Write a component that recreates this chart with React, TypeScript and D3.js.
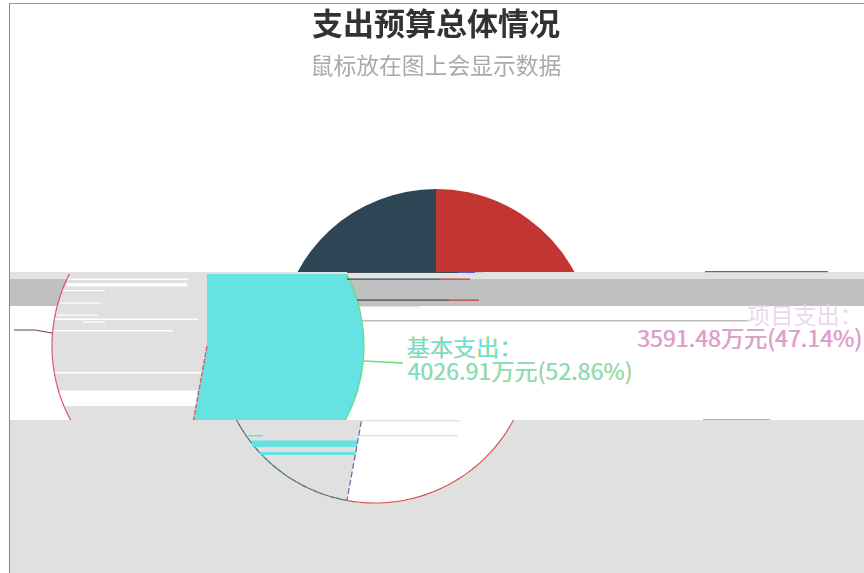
import React from "react";
import * as d3 from "d3";

const title = "支出预算总体情况";
const subtitle = "鼠标放在图上会显示数据";
const categories = ["基本支出", "项目支出"];
const values = [4026.91, 3591.48];
const percents = ["52.86%", "47.14%"];
const palette = ["#c23531", "#2f4554"];

const W = 864, H = 573;
const cx = 436, cy = 346, R = 157;
const bandTop = 272, sliceTop = 274, bandBottom = 420;
const shiftMid = -229, shiftMidLeft = -227, shiftLow = -61;

// scan-line artefacts of the picture: [x0, x1, y, height]
const whiteStreaks = [
  [68, 188, 278.5, 1.5], [67, 187, 283, 3.5], [63, 105, 290, 1.2], [60, 100, 302.5, 1.2],
  [57, 98, 314.5, 1.2], [55, 198, 318.5, 1.5], [83, 105, 321.5, 1.2], [52, 173, 330, 1.5],
  [55, 203, 372, 1.5], [58, 197, 390.5, 15.5],
];
const cyanStreaks = [[248, 263, 435, 1.5], [252, 357, 440.5, 6.5], [260, 355, 452, 3]];
const grayLines = [[360, 460, 420, 1.5], [360, 458, 435, 1.5]];
const barStreaks = [
  [347, 458, 272, 1, "#3d4f55"], [458, 475, 272, 1, "#5a5ad0"], [475, 483, 272, 1, "#c8c8c8"],
  [347, 440, 278.5, 1.2, "#2f4554"], [440, 470, 278.5, 1.2, "#c23531"],
  [357, 449, 299.5, 1.2, "#2f4554"], [449, 479, 299.5, 1.2, "#c23531"],
  [705, 828, 271, 1.2, "#666"], [703, 770, 419.5, 1.4, "#666"],
];

const slices = d3.pie<number>().sort(null).startAngle(0).endAngle(2 * Math.PI)(values);
const wedge = d3.arc<d3.PieArcDatum<number>>().innerRadius(0).outerRadius(R);
const rim = d3.arc<d3.PieArcDatum<number>>().innerRadius(R).outerRadius(R);
const split = slices[0].endAngle;
const splitEnd = d3.pointRadial(split, R);
const radial = `M0,0L${splitEnd[0]},${splitEnd[1]}`;
const fmt = (i: number) => `${values[i].toFixed(2)}万元(${percents[i]})`;
const cjk = "'Noto Sans CJK SC', sans-serif";

export default function App() {
  const [red, dark] = slices;
  return (
    <svg width={W} height={H} style={{ position: "absolute", left: 0, top: 0 }} fontFamily={cjk}>
      <defs>
        <clipPath id="top"><rect x={0} y={0} width={W} height={bandTop} /></clipPath>
        <clipPath id="mid"><rect x={10} y={sliceTop} width={W} height={bandBottom - sliceTop} /></clipPath>
        <clipPath id="low"><rect x={10} y={bandBottom} width={W} height={H - bandBottom} /></clipPath>
        <clipPath id="lowerMid"><rect x={0} y={cy} width={W} height={bandBottom - cy} /></clipPath>
        <filter id="soft" x="0" y="0" width="100%" height="100%">
          <feGaussianBlur stdDeviation="0.45" />
        </filter>
        <filter id="fringeYellow" x="-5%" y="-10%" width="110%" height="120%">
          <feDropShadow dx={-0.7} dy={0} stdDeviation={0} floodColor="#f0d070" />
        </filter>
        <filter id="fringeMagenta" x="-5%" y="-10%" width="110%" height="120%">
          <feDropShadow dx={0.6} dy={0} stdDeviation={0} floodColor="#f08cf0" />
        </filter>
      </defs>
      <rect width={W} height={H} fill="#fff" />
      <g filter="url(#soft)">
        {/* upper part of the pie */}
        <g clipPath="url(#top)">
          <g transform={`translate(${cx},${cy})`}>
            <path d={wedge(red)!} fill={palette[0]} />
            <path d={wedge(dark)!} fill={palette[1]} />
          </g>
        </g>

        {/* middle band */}
        <rect x={10} y={bandTop} width={W - 10} height={7} fill="#e2e2e2" />
        <rect x={10} y={279} width={W - 10} height={27} fill="#c0c0c0" />
        <rect x={360} y={306} width={60} height={1.5} fill="#e6e6e6" />
        <rect x={360} y={320} width={390} height={1.5} fill="#bdbdbd" />
        <g clipPath="url(#mid)">
          <g transform={`translate(${cx + shiftMidLeft},${cy})`}>
            <path d={wedge(dark)!} fill="#e0e0e0" />
          </g>
        </g>
        {whiteStreaks.map(([a, b, y, h], i) => (
          <rect key={i} x={a} y={y} width={b - a} height={h} fill="#fff" />
        ))}
        <g clipPath="url(#mid)">
          <g transform={`translate(${cx + shiftMidLeft},${cy})`}>
            <path d={rim(dark)!} fill="none" stroke="#d8536a" strokeWidth={1.2} strokeDasharray="4 2" />
          </g>
          <g transform={`translate(${cx + shiftMid},${cy})`}>
            <path d={wedge(red)!} fill="#66e2e2" />
            <path d={rim(red)!} fill="none" stroke="#66dc7c" strokeWidth={1.2} />
          </g>
        </g>
        <g clipPath="url(#lowerMid)">
          <g transform={`translate(${cx + shiftMid},${cy})`}>
            <path d={radial} fill="none" stroke="#d8605a" strokeWidth={1.4} strokeDasharray="5 1.5" />
          </g>
        </g>
        {barStreaks.map(([a, b, y, h, c], i) => (
          <rect key={i} x={a as number} y={y as number} width={(b as number) - (a as number)} height={h as number} fill={c as string} />
        ))}

        {/* lower band */}
        <rect x={10} y={bandBottom} width={W - 10} height={H - bandBottom} fill="#e0e0e0" />
        <g clipPath="url(#low)">
          <g transform={`translate(${cx + shiftLow},${cy})`}>
            <path d={wedge(red)!} fill="#fff" />
            <path d={rim(red)!} fill="none" stroke="#d9534f" strokeWidth={1.1} strokeDasharray="9 1" />
            <path d={rim(dark)!} fill="none" stroke="#56707f" strokeWidth={1.2} strokeDasharray="5 1" />
          </g>
        </g>
        {grayLines.map(([a, b, y, h], i) => (
          <rect key={i} x={a} y={y} width={b - a} height={h} fill="#e4e4e4" />
        ))}
        {cyanStreaks.map(([a, b, y, h], i) => (
          <rect key={i} x={a} y={y} width={b - a} height={h} fill="#66e2e2" />
        ))}
        <g clipPath="url(#low)">
          <g transform={`translate(${cx + shiftLow},${cy})`}>
            <path d={radial} fill="none" stroke="#7a6aa8" strokeWidth={1.3} strokeDasharray="6 2.5" />
          </g>
        </g>

        {/* leader lines */}
        <path d="M14,330L35,330L52,333" fill="none" stroke="#6b3f58" strokeWidth={1.2} />
        <path d="M364,361L403,363" fill="none" stroke="#6fdc78" strokeWidth={1.5} />

        {/* labels */}
        <g fontSize={23.2}>
          <text x={407} y={356} fill="#66e2da" filter="url(#fringeYellow)">{categories[0]}：</text>
          <text x={408} y={380} fill="#74e2c8" filter="url(#fringeYellow)">{fmt(0)}</text>
          <text x={863} y={324} textAnchor="end" fill="#ead9ea">{categories[1]}：</text>
          <text x={862} y={347} textAnchor="end" fill="#d8a4c0" filter="url(#fringeMagenta)">{fmt(1)}</text>
        </g>

        {/* titles */}
        <text x={436} y={35} textAnchor="middle" fontSize={31} fontWeight={700} fill="#333">{title}</text>
        <text x={436} y={74} textAnchor="middle" fontSize={22.8} fill="#aaa">{subtitle}</text>
      </g>

      {/* frame */}
      <rect x={0} y={0} width={9} height={H} fill="#fff" />
      <rect x={0} y={0} width={W} height={3} fill="#fff" />
      <rect x={9} y={3} width={W - 9} height={1} fill="#999" />
      <rect x={9} y={3} width={1} height={H - 3} fill="#888" />
    </svg>
  );
}
